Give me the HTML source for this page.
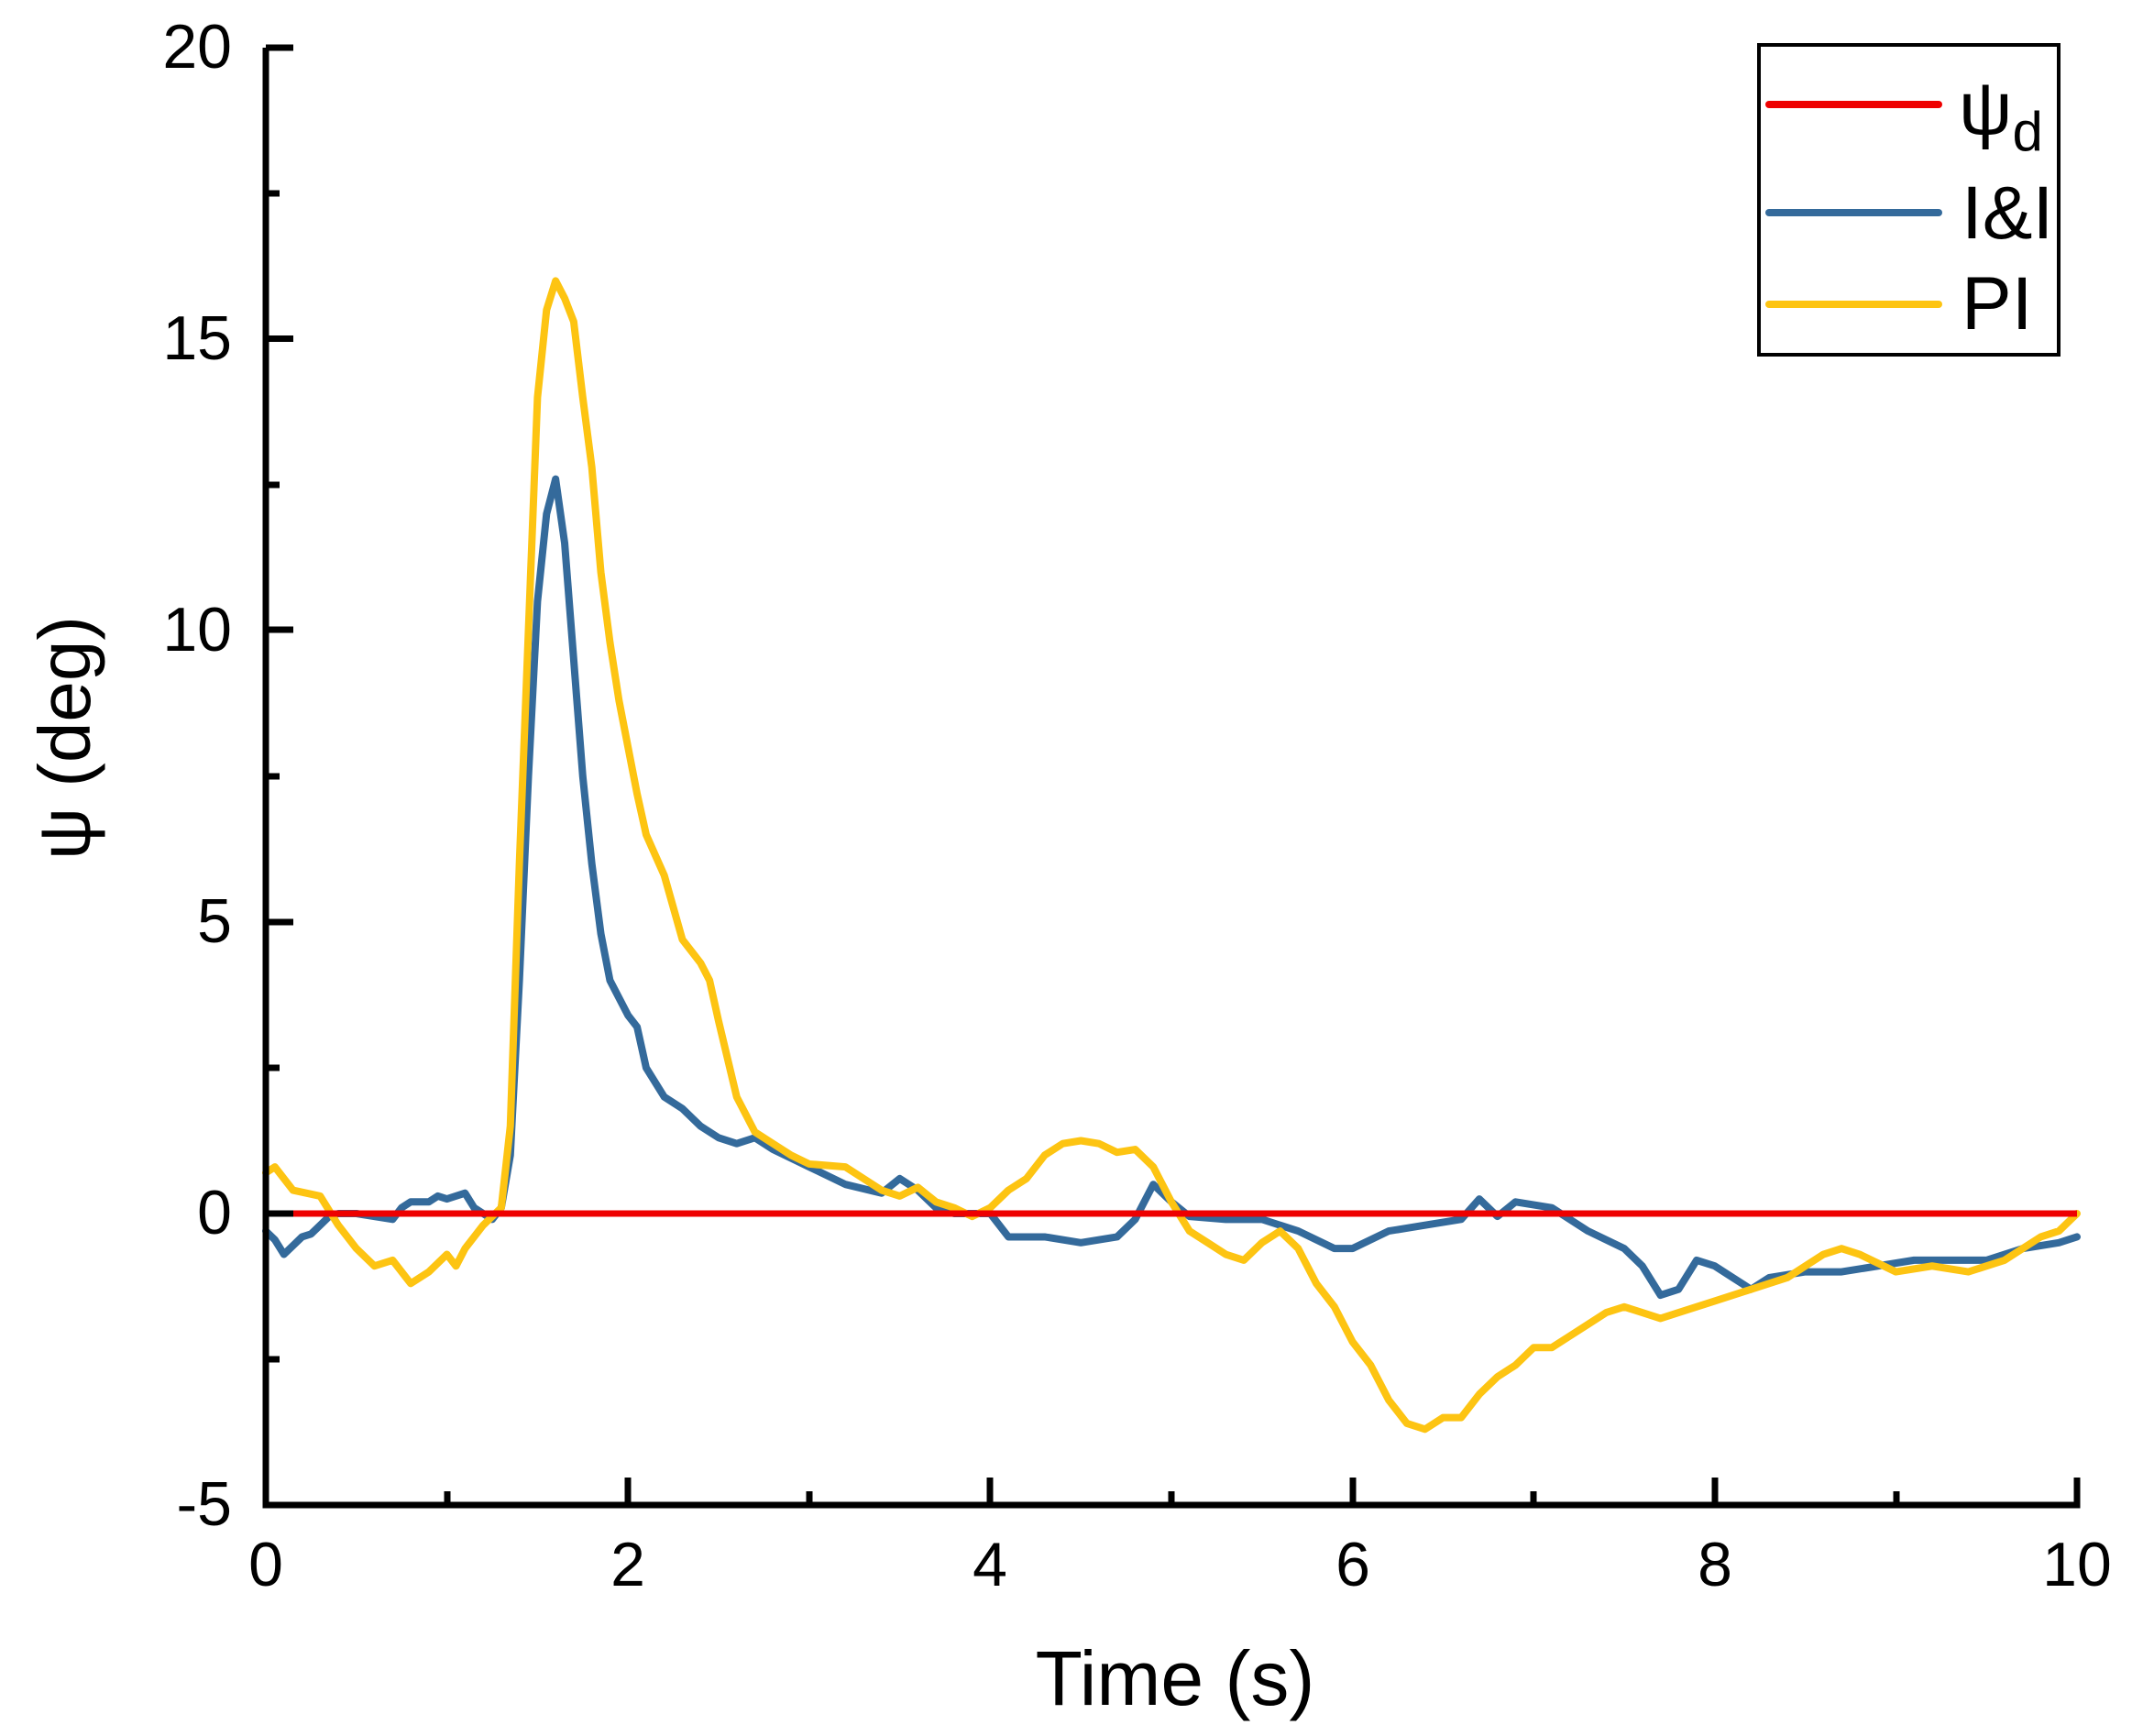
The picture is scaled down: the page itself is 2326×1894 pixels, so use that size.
<!DOCTYPE html>
<html><head><meta charset="utf-8"><style>
html,body{margin:0;padding:0;background:#fff}
svg{display:block}
text{font-family:"Liberation Sans",Arial,sans-serif;fill:#000}
</style></head><body>
<svg width="2326" height="1894" viewBox="0 0 2326 1894" xmlns="http://www.w3.org/2000/svg">
<rect width="2326" height="1894" fill="#fff"/>
<g transform="translate(290,1324) scale(197.6,-63.6)" fill="none" stroke-linejoin="round" stroke-linecap="round">
<polyline vector-effect="non-scaling-stroke" stroke="#346A9B" stroke-width="8" points="0,-0.3 0.05,-0.45 0.1,-0.7 0.15,-0.55 0.2,-0.4 0.25,-0.35 0.3,-0.2 0.35,-0.05 0.4,0 0.5,0 0.6,-0.05 0.7,-0.1 0.75,0.1 0.8,0.2 0.9,0.2 0.95,0.3 1.0,0.25 1.1,0.35 1.15,0.1 1.2,0 1.25,-0.1 1.3,0.1 1.35,1 1.4,4 1.45,7.5 1.5,10.5 1.55,12 1.6,12.6 1.65,11.5 1.7,9.5 1.75,7.5 1.8,6 1.85,4.8 1.9,4 2.0,3.4 2.05,3.2 2.1,2.5 2.2,2 2.3,1.8 2.4,1.5 2.5,1.3 2.6,1.2 2.7,1.3 2.8,1.1 3,0.8 3.2,0.5 3.4,0.35 3.5,0.6 3.6,0.4 3.7,0.1 3.8,0 4,0 4.1,-0.4 4.3,-0.4 4.5,-0.5 4.7,-0.4 4.8,-0.1 4.9,0.5 5.0,0.2 5.1,-0.05 5.3,-0.1 5.5,-0.1 5.7,-0.3 5.9,-0.6 6.0,-0.6 6.2,-0.3 6.4,-0.2 6.6,-0.1 6.7,0.25 6.8,-0.05 6.9,0.2 7.1,0.1 7.3,-0.3 7.5,-0.6 7.6,-0.9 7.7,-1.4 7.8,-1.3 7.9,-0.8 8.0,-0.9 8.1,-1.1 8.2,-1.3 8.3,-1.1 8.5,-1 8.7,-1 8.9,-0.9 9.1,-0.8 9.3,-0.8 9.5,-0.8 9.7,-0.6 9.9,-0.5 10,-0.4"/>
<polyline vector-effect="non-scaling-stroke" stroke="#FDC412" stroke-width="8" points="0,0.7 0.05,0.8 0.15,0.4 0.3,0.3 0.4,-0.2 0.5,-0.6 0.6,-0.9 0.7,-0.8 0.8,-1.2 0.9,-1 1.0,-0.7 1.05,-0.9 1.1,-0.6 1.2,-0.2 1.3,0.1 1.35,1.5 1.4,6 1.45,10 1.5,14 1.55,15.5 1.6,16 1.65,15.7 1.7,15.3 1.75,14 1.8,12.8 1.85,11 1.9,9.8 1.95,8.8 2.0,8 2.05,7.2 2.1,6.5 2.2,5.8 2.3,4.7 2.4,4.3 2.45,4 2.5,3.3 2.6,2 2.7,1.4 2.8,1.2 2.9,1 3.0,0.85 3.2,0.8 3.4,0.4 3.5,0.3 3.6,0.45 3.7,0.2 3.8,0.1 3.9,-0.05 4.0,0.1 4.1,0.4 4.2,0.6 4.3,1.0 4.4,1.2 4.5,1.25 4.6,1.2 4.7,1.05 4.8,1.1 4.9,0.8 5.0,0.2 5.1,-0.3 5.2,-0.5 5.3,-0.7 5.4,-0.8 5.5,-0.5 5.6,-0.3 5.7,-0.6 5.8,-1.2 5.9,-1.6 6.0,-2.2 6.1,-2.6 6.2,-3.2 6.3,-3.6 6.4,-3.7 6.5,-3.5 6.6,-3.5 6.7,-3.1 6.8,-2.8 6.9,-2.6 7.0,-2.3 7.1,-2.3 7.2,-2.1 7.3,-1.9 7.4,-1.7 7.5,-1.6 7.6,-1.7 7.7,-1.8 7.8,-1.7 8.0,-1.5 8.2,-1.3 8.4,-1.1 8.6,-0.7 8.7,-0.6 8.8,-0.7 9.0,-1 9.2,-0.9 9.4,-1 9.6,-0.8 9.8,-0.4 9.9,-0.3 10,0"/>
</g>
<line x1="290" y1="1324" x2="2266" y2="1324" stroke="#EE0000" stroke-width="7"/>
<g stroke="#000" stroke-width="7" fill="none">
<polyline points="290,52 290,1642 2266,1642 2266,1612"/>
<line x1="290" y1="52" x2="320" y2="52"/>
<line x1="290" y1="369.5" x2="320" y2="369.5"/>
<line x1="290" y1="687" x2="320" y2="687"/>
<line x1="290" y1="1006" x2="320" y2="1006"/>
<line x1="290" y1="1324" x2="320" y2="1324"/>
<line x1="290" y1="211" x2="305" y2="211"/>
<line x1="290" y1="529" x2="305" y2="529"/>
<line x1="290" y1="847" x2="305" y2="847"/>
<line x1="290" y1="1165" x2="305" y2="1165"/>
<line x1="290" y1="1483" x2="305" y2="1483"/>
<line x1="685" y1="1642" x2="685" y2="1612"/>
<line x1="1080" y1="1642" x2="1080" y2="1612"/>
<line x1="1476" y1="1642" x2="1476" y2="1612"/>
<line x1="1871" y1="1642" x2="1871" y2="1612"/>
<line x1="488" y1="1642" x2="488" y2="1627"/>
<line x1="883" y1="1642" x2="883" y2="1627"/>
<line x1="1278" y1="1642" x2="1278" y2="1627"/>
<line x1="1673" y1="1642" x2="1673" y2="1627"/>
<line x1="2069" y1="1642" x2="2069" y2="1627"/>
</g>
<g font-size="68" text-anchor="end">
<text x="253" y="74">20</text>
<text x="253" y="392">15</text>
<text x="253" y="710">10</text>
<text x="253" y="1028">5</text>
<text x="253" y="1346">0</text>
<text x="253" y="1664">-5</text>
</g>
<g font-size="68" text-anchor="middle">
<text x="290" y="1730">0</text>
<text x="685" y="1730">2</text>
<text x="1080" y="1730">4</text>
<text x="1476" y="1730">6</text>
<text x="1871" y="1730">8</text>
<text x="2266" y="1730">10</text>
</g>
<text x="1282" y="1860" font-size="84" text-anchor="middle">Time (s)</text>
<text transform="translate(98,805) rotate(-90)" font-size="80" text-anchor="middle">ψ (deg)</text>
<rect x="1919" y="49" width="327" height="338" fill="#fff" stroke="#000" stroke-width="4"/>
<g stroke-width="8" stroke-linecap="round">
<line x1="1930" y1="114" x2="2115" y2="114" stroke="#EE0000"/>
<line x1="1930" y1="232" x2="2115" y2="232" stroke="#346A9B"/>
<line x1="1930" y1="332" x2="2115" y2="332" stroke="#FDC412"/>
</g>
<text x="2137" y="146" font-size="82">ψ<tspan font-size="60" dy="18">d</tspan></text>
<text x="2140" y="260" font-size="82">I&amp;I</text>
<text x="2140" y="359" font-size="82">PI</text>
</svg>
</body></html>
